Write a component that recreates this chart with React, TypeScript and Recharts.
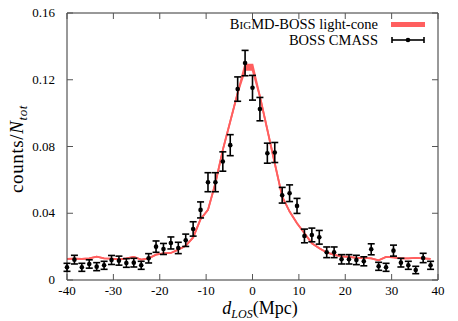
import {
  ComposedChart, Area, Scatter, ErrorBar, XAxis, YAxis, ReferenceArea,
} from 'recharts'

const dLos = [
  -40, -38.4, -36.8, -35.2, -33.6, -32, -30.4, -28.8, -27.2, -25.6,
  -24, -22.4, -20.8, -19.2, -17.6, -16, -14.4, -12.8, -11.2, -9.6,
  -8, -6.4, -4.8, -3.2, -1.6, 0, 1.6, 3.2, 4.8, 6.4,
  8, 9.6, 11.2, 12.8, 14.4, 16, 17.6, 19.2, 20.8, 22.4,
  24, 25.6, 27.2, 28.8, 30.4, 32, 33.6, 35.2, 36.8, 38.4,
]

// BOSS CMASS measurements
const cmass = [
  0.0076, 0.0122, 0.0076, 0.0096, 0.008, 0.0088, 0.012, 0.0116, 0.0102, 0.0104,
  0.0088, 0.013, 0.020, 0.0186, 0.0222, 0.0192, 0.0238, 0.0306, 0.042, 0.0586,
  0.0586, 0.071, 0.0808, 0.1144, 0.130, 0.1152, 0.1024, 0.076, 0.0764, 0.0508,
  0.052, 0.0444, 0.0264, 0.027, 0.0256, 0.0166, 0.0166, 0.0124, 0.0124, 0.012,
  0.0112, 0.0184, 0.0082, 0.0076, 0.0176, 0.0104, 0.0088, 0.006, 0.0132, 0.0088,
]

const cmassErr = [
  0.0024, 0.0026, 0.0024, 0.0025, 0.0024, 0.0024, 0.0027, 0.0027, 0.0026, 0.0026,
  0.0024, 0.0028, 0.0034, 0.0033, 0.0036, 0.0034, 0.0037, 0.0043, 0.0048, 0.0057,
  0.0057, 0.0058, 0.0063, 0.0073, 0.0076, 0.0074, 0.007, 0.006, 0.006, 0.0047,
  0.005, 0.0045, 0.0041, 0.0041, 0.0041, 0.0032, 0.0032, 0.0028, 0.0028, 0.0028,
  0.0027, 0.0033, 0.0024, 0.0024, 0.0033, 0.0026, 0.0024, 0.0022, 0.0028, 0.0024,
]

// BigMD-BOSS light-cone prediction
const lightCone = [
  0.0126, 0.0128, 0.0126, 0.013, 0.014, 0.013, 0.0128, 0.0124, 0.013, 0.0138,
  0.0122, 0.013, 0.0152, 0.016, 0.0162, 0.0182, 0.0205, 0.0255, 0.0365, 0.042,
  0.058, 0.078, 0.095, 0.112, 0.1275, 0.1275, 0.11, 0.09, 0.07, 0.05,
  0.041, 0.034, 0.028, 0.022, 0.019, 0.0165, 0.015, 0.0142, 0.0138, 0.0132,
  0.0132, 0.013, 0.0118, 0.0138, 0.0136, 0.013, 0.013, 0.0132, 0.013, 0.0126,
]

const lightConeSpread = [
  0, 0, 0, 0, 0, 0, 0, 0, 0, 0,
  0, 0, 0, 0, 0, 0, 0, 0, 0, 0,
  0, 0, 0, 0, 0.0016, 0.0016, 0, 0, 0, 0,
  0, 0, 0, 0, 0, 0, 0, 0, 0, 0,
  0, 0, 0, 0, 0, 0, 0, 0, 0, 0,
]

const xTicks = [-40, -30, -20, -10, 0, 10, 20, 30, 40]
const yTicks = [0, 0.04, 0.08, 0.12, 0.16]

const data = dLos.map((x, i) => ({
  x,
  y: cmass[i],
  err: cmassErr[i],
  band: [lightCone[i] - lightConeSpread[i], lightCone[i] + lightConeSpread[i]],
}))

const L = 67, R = 438, T = 13, B = 280
const RED = '#ff5f5f'
const FONT = 'Liberation Serif, DejaVu Serif, serif'

const XTick = ({ x, payload }: any) => (
  <g>
    <line x1={x} x2={x} y1={B} y2={B - 6} stroke="#555" />
    <line x1={x} x2={x} y1={T} y2={T + 6} stroke="#555" />
    <text x={x} y={295} textAnchor="middle" fontSize={13} style={{ fontFamily: FONT }} fill="#000">
      {payload.value}
    </text>
  </g>
)

const YTick = ({ y, payload }: any) => (
  <g>
    <line x1={L} x2={L + 6} y1={y} y2={y} stroke="#555" />
    <line x1={R} x2={R - 6} y1={y} y2={y} stroke="#555" />
    <text x={L - 12} y={y + 4} textAnchor="end" fontSize={13} style={{ fontFamily: FONT }} fill="#000">
      {payload.value === 0 ? '0' : payload.value.toFixed(2)}
    </text>
  </g>
)

export default function App() {
  return (
    <div style={{ position: 'absolute', left: 0, top: 0, width: 458, height: 321, background: '#fff', fontFamily: FONT }}>
      <ComposedChart
        width={458}
        height={321}
        data={data}
        margin={{ top: T, right: 458 - R, bottom: 0, left: 0 }}
      >
        <XAxis
          type="number"
          dataKey="x"
          domain={[-40, 40]}
          ticks={xTicks}
          axisLine={false}
          tickLine={false}
          height={321 - B}
          tick={<XTick />}
          interval={0}
        />
        <YAxis
          type="number"
          domain={[0, 0.16]}
          ticks={yTicks}
          axisLine={false}
          tickLine={false}
          width={L}
          tick={<YTick />}
          interval={0}
        />
        <Area
          type="linear"
          dataKey="band"
          stroke={RED}
          strokeWidth={1.8}
          fill={RED}
          fillOpacity={1}
          dot={false}
          activeDot={false}
          isAnimationActive={false}
        />
        <Scatter
          dataKey="y"
          fill="#000"
          isAnimationActive={false}
          shape={(p: any) => <circle cx={p.cx} cy={p.cy} r={2.3} fill="#000" />}
        >
          <ErrorBar dataKey="err" direction="y" width={3.5} stroke="#000" strokeWidth={1.6} />
        </Scatter>
        <ReferenceArea x1={-40} x2={40} y1={0} y2={0.16} fill="none" stroke="#333" strokeWidth={1} ifOverflow="visible" />
      </ComposedChart>
      <svg width={458} height={321} style={{ position: 'absolute', left: 0, top: 0, pointerEvents: 'none', fontFamily: FONT }}>
        <g fill="#000">
          <text x={378} y={29} textAnchor="end" fontSize={14.5}>
            B<tspan fontSize={11}>IG</tspan>MD-BOSS light-cone
          </text>
          <text x={378} y={45} textAnchor="end" fontSize={14.5}>BOSS CMASS</text>
          <text
            x={0}
            y={0}
            fontSize={19}
            letterSpacing={0.6}
            textAnchor="middle"
            transform="translate(23,149) rotate(-90)"
          >
            counts/<tspan fontStyle="italic">N</tspan>
            <tspan fontSize={13} fontStyle="italic" dy={4}>tot</tspan>
          </text>
          <text x={260} y={314} textAnchor="middle" fontSize={18}>
            <tspan fontStyle="italic">d</tspan>
            <tspan fontSize={12} fontStyle="italic" dy={4}>LOS</tspan>
            <tspan dy={-4}>(Mpc)</tspan>
          </text>
        </g>
        <rect x={391} y={22} width={34} height={5} fill={RED} />
        <g stroke="#000" strokeWidth={1.6}>
          <line x1={392} x2={424} y1={40} y2={40} />
          <line x1={392} x2={392} y1={37} y2={43} />
          <line x1={424} x2={424} y1={37} y2={43} />
        </g>
        <circle cx={408} cy={40} r={2.3} fill="#000" />
      </svg>
    </div>
  )
}
